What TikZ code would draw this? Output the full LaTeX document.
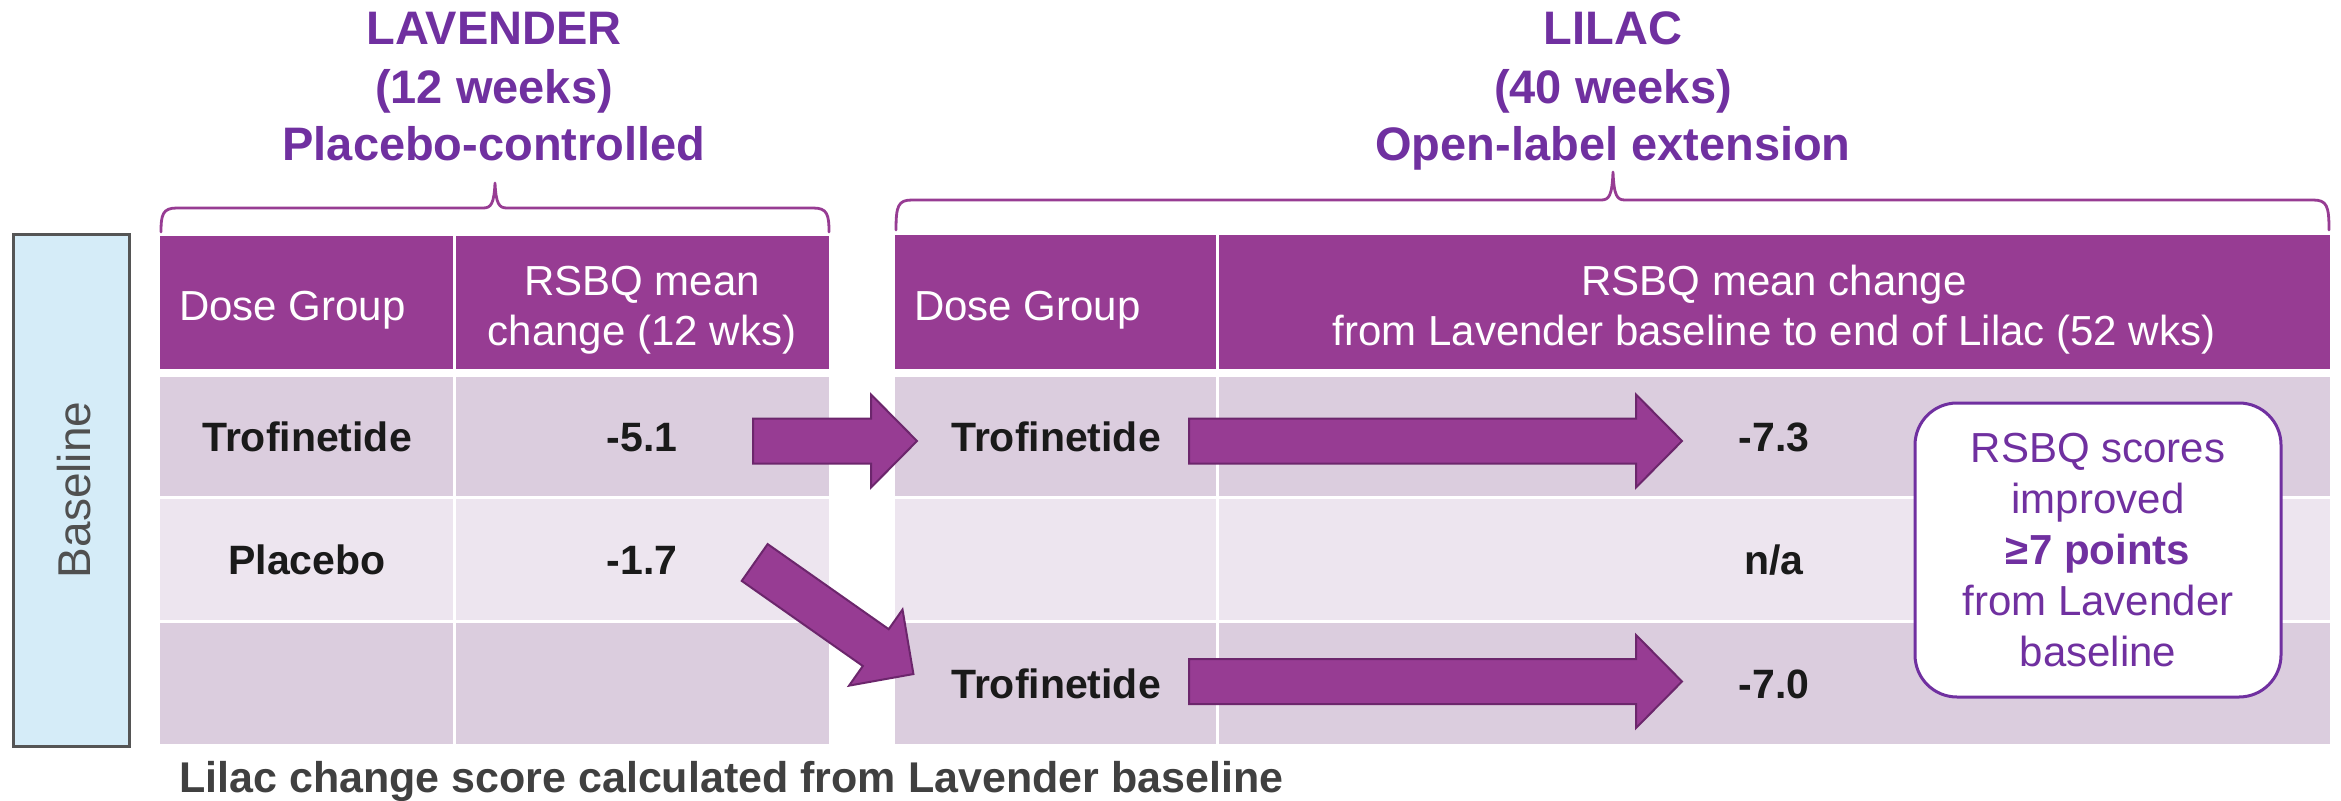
\documentclass[tikz,border=0pt]{standalone}
\usepackage{fontspec}
\setmainfont{Liberation Sans}
\definecolor{hdrpurple}{RGB}{151,60,147}
\definecolor{rowdark}{RGB}{219,205,222}
\definecolor{rowlight}{RGB}{237,229,239}
\definecolor{txtpurple}{RGB}{112,48,160}
\definecolor{arrowfill}{RGB}{151,60,147}
\definecolor{arrowdraw}{RGB}{108,38,108}
\definecolor{boxblue}{RGB}{213,236,248}
\definecolor{boxgray}{RGB}{85,85,85}
\definecolor{basegray}{RGB}{80,80,80}
\definecolor{bodyblack}{RGB}{26,26,26}
\definecolor{bottomgray}{RGB}{64,64,64}
\begin{document}
\begin{tikzpicture}[x=1pt,y=-1pt,
  cell/.style={anchor=north west, inner sep=0pt, outer sep=0pt, draw=none},
  hdrcell/.style={cell, fill=hdrpurple},
  darkcell/.style={cell, fill=rowdark},
  lightcell/.style={cell, fill=rowlight},
  hdrtxt/.style={anchor=base, inner sep=0pt, text=white, font=\fontsize{42}{50}\selectfont},
  bodytxt/.style={anchor=base, inner sep=0pt, text=bodyblack, font=\bfseries\fontsize{41}{49}\selectfont},
  headtxt/.style={anchor=base, inner sep=0pt, text=txtpurple, font=\bfseries\fontsize{47}{57}\selectfont},
  bracesty/.style={draw=hdrpurple, line width=2.8pt, line join=round, line cap=round},
  pics/blockarr/.style={code={
    \draw[fill=arrowfill, draw=arrowdraw, line width=2pt, line join=miter]
      (0,-22.5) -- (#1-46,-22.5) -- (#1-46,-46.5) -- (#1,0) -- (#1-46,46.5) -- (#1-46,22.5) -- (0,22.5) -- cycle;}}
]
\path[use as bounding box, fill=white] (0,0) rectangle (2341,800);

% Baseline box
\node[cell, draw=boxgray, fill=boxblue, line width=3pt, minimum width=116pt, minimum height=512pt] (basebox) at (13.5,234.5) {};
\node[rotate=90, anchor=base, inner sep=0pt, text=basegray, font=\fontsize{46}{54}\selectfont] (basetxt) at (90,490) {Baseline};

% Left table cells
\node[hdrcell, minimum width=293pt, minimum height=133pt] (LH1) at (160,236) {};
\node[hdrcell, minimum width=373pt, minimum height=133pt] (LH2) at (456,236) {};
\node[darkcell, minimum width=293pt, minimum height=119pt] (L11) at (160,377) {};
\node[darkcell, minimum width=373pt, minimum height=119pt] (L12) at (456,377) {};
\node[lightcell, minimum width=293pt, minimum height=121pt] (L21) at (160,499) {};
\node[lightcell, minimum width=373pt, minimum height=121pt] (L22) at (456,499) {};
\node[darkcell, minimum width=293pt, minimum height=121pt] (L31) at (160,623) {};
\node[darkcell, minimum width=373pt, minimum height=121pt] (L32) at (456,623) {};

% Right table cells
\node[hdrcell, minimum width=321pt, minimum height=134pt] (RH1) at (895,235) {};
\node[hdrcell, minimum width=1111pt, minimum height=134pt] (RH2) at (1219,235) {};
\node[darkcell, minimum width=321pt, minimum height=119pt] (R11) at (895,377) {};
\node[darkcell, minimum width=1111pt, minimum height=119pt] (R12) at (1219,377) {};
\node[lightcell, minimum width=321pt, minimum height=121pt] (R21) at (895,499) {};
\node[lightcell, minimum width=1111pt, minimum height=121pt] (R22) at (1219,499) {};
\node[darkcell, minimum width=321pt, minimum height=121pt] (R31) at (895,623) {};
\node[darkcell, minimum width=1111pt, minimum height=121pt] (R32) at (1219,623) {};

% Braces
\draw[bracesty] (161,232) .. controls (161,214) and (163,208) .. (177,208) -- (483,208)
  .. controls (491,208) and (494,204) .. (495,183) .. controls (496,204) and (499,208) .. (507,208)
  -- (813,208) .. controls (827,208) and (829,214) .. (829,232);
\draw[bracesty] (896,230) .. controls (896,206) and (898,200) .. (912,200) -- (1601,200)
  .. controls (1609,200) and (1612,196) .. (1613,172) .. controls (1614,196) and (1617,200) .. (1625,200)
  -- (2313,200) .. controls (2327,200) and (2329,206) .. (2329,230);

% Headings
\node[headtxt] (lav1) at (494,45) {LAVENDER};
\node[headtxt] (lav2) at (494,103) {(12 weeks)};
\node[headtxt] (lav3) at (494,160) {Placebo-controlled};
\node[headtxt] (lil1) at (1613,45) {LILAC};
\node[headtxt] (lil2) at (1613,103) {(40 weeks)};
\node[headtxt] (lil3) at (1613,160) {Open-label extension};

% Header texts
\node[hdrtxt, anchor=base west] (lhd1) at (179,320) {Dose Group};
\node[hdrtxt] (lhd2a) at (642,295) {RSBQ mean};
\node[hdrtxt] (lhd2b) at (642,345) {change (12 wks)};
\node[hdrtxt, anchor=base west] (rhd1) at (914,320) {Dose Group};
\node[hdrtxt] (rhd2a) at (1774,295) {RSBQ mean change};
\node[hdrtxt] (rhd2b) at (1774,345) {from Lavender baseline to end of Lilac (52 wks)};

% Block arrows
\coordinate (a1) at (753,441);
\coordinate (a2) at (754.7,562.5);
\coordinate (a3) at (1189,441);
\coordinate (a4) at (1189,681.5);
\pic (arr1) at (a1) {blockarr=164};
\pic[rotate=-35.1] (arr2) at (a2) {blockarr=194};
\pic (arr3) at (a3) {blockarr=493};
\pic (arr4) at (a4) {blockarr=493};

% Body texts
\node[bodytxt] (t11) at (307,451) {Trofinetide};
\node[bodytxt] (t12) at (642,451) {-5.1};
\node[bodytxt] (t21) at (307,574) {Placebo};
\node[bodytxt] (t22) at (642,574) {-1.7};
\node[bodytxt] (r11) at (1056,451) {Trofinetide};
\node[bodytxt] (r12) at (1774,451) {-7.3};
\node[bodytxt] (r22) at (1774,574) {n/a};
\node[bodytxt] (r31) at (1056,698) {Trofinetide};
\node[bodytxt] (r32) at (1774,698) {-7.0};

% Callout
\node[draw=txtpurple, fill=white, line width=3pt, rounded corners=42pt,
  minimum width=366pt, minimum height=294pt, inner sep=0pt, align=center,
  text=txtpurple, font=\fontsize{42}{51}\selectfont] (callout) at (2098,550)
  {RSBQ scores\\improved\\\textbf{≥7 points}\\from Lavender\\baseline};

% Bottom note
\node[anchor=base west, inner sep=0pt, text=bottomgray, font=\bfseries\fontsize{43}{50}\selectfont] (note) at (179,792)
  {Lilac change score calculated from Lavender baseline};
\end{tikzpicture}
\end{document}
